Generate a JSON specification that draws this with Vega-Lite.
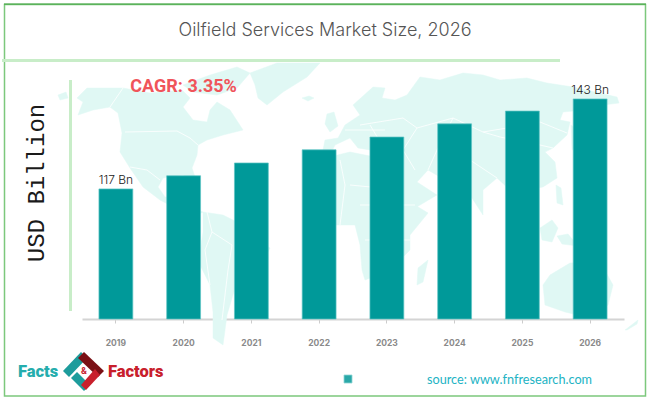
{
  "$schema": "https://vega.github.io/schema/vega-lite/v6.json",
  "width": 650,
  "height": 400,
  "padding": 0,
  "autosize": "none",
  "background": "#ffffff",
  "config": {"view": {"stroke": null}},
  "datasets": {
    "market": [
      {"year": "2019", "value": 117, "label": "117 Bn"},
      {"year": "2020", "value": 120.8, "label": ""},
      {"year": "2021", "value": 124.5, "label": ""},
      {"year": "2022", "value": 128.3, "label": ""},
      {"year": "2023", "value": 132, "label": ""},
      {"year": "2024", "value": 135.8, "label": ""},
      {"year": "2025", "value": 139.5, "label": ""},
      {"year": "2026", "value": 143, "label": "143 Bn"}
    ],
    "one": [{"item": "note"}]
  },
  "layer": [
    {
      "projection": {"type": "identity", "scale": 1, "translate": [0, 0]},
      "layer": [
        {
          "data": {"values": [
            {"type": "Feature", "properties": {"name": "North America"}, "geometry": {"type": "Polygon", "coordinates": [[[77,98],[87,88],[123,88],[150,93],[182,90],[190,98],[183,107],[193,120],[207,122],[210,110],[217,102],[230,110],[243,130],[223,135],[207,140],[198,145],[197,155],[192,168],[197,183],[192,180],[183,175],[163,178],[158,187],[165,197],[175,197],[182,205],[203,212],[197,215],[183,212],[160,200],[143,187],[130,168],[120,152],[122,133],[118,113],[110,107],[93,110],[78,115],[83,102],[77,98]]]}},
            {"type": "Feature", "properties": {"name": "Chukotka"}, "geometry": {"type": "Polygon", "coordinates": [[[58,95],[66,92],[68,98],[60,100],[58,95]]]}},
            {"type": "Feature", "properties": {"name": "Arctic islands"}, "geometry": {"type": "Polygon", "coordinates": [[[183,85],[210,75],[237,67],[250,73],[237,88],[217,95],[193,92],[183,85]]]}},
            {"type": "Feature", "properties": {"name": "Greenland"}, "geometry": {"type": "Polygon", "coordinates": [[[250,73],[277,63],[320,63],[307,77],[283,92],[267,105],[258,98],[255,85],[250,73]]]}},
            {"type": "Feature", "properties": {"name": "Iceland"}, "geometry": {"type": "Polygon", "coordinates": [[[302,98],[309,96],[314,98],[308,101],[302,98]]]}},
            {"type": "Feature", "properties": {"name": "Britain"}, "geometry": {"type": "Polygon", "coordinates": [[[327,114],[334,112],[338,126],[330,132],[325,124],[327,114]]]}},
            {"type": "Feature", "properties": {"name": "South America"}, "geometry": {"type": "Polygon", "coordinates": [[[203,212],[223,215],[237,222],[250,235],[270,248],[263,262],[250,278],[235,288],[227,315],[223,345],[213,338],[213,312],[210,285],[200,265],[200,252],[203,232],[203,212]]]}},
            {"type": "Feature", "properties": {"name": "Africa"}, "geometry": {"type": "Polygon", "coordinates": [[[325,158],[350,152],[365,155],[390,160],[402,175],[415,205],[428,213],[410,235],[410,250],[395,265],[378,275],[365,280],[362,270],[360,245],[355,225],[325,225],[312,200],[318,175],[325,158]]]}},
            {"type": "Feature", "properties": {"name": "Madagascar"}, "geometry": {"type": "Polygon", "coordinates": [[[428,260],[423,282],[417,285],[418,268],[428,260]]]}},
            {"type": "Feature", "properties": {"name": "Eurasia"}, "geometry": {"type": "Polygon", "coordinates": [[[323,150],[325,140],[338,138],[345,125],[360,115],[353,105],[373,87],[385,88],[382,98],[395,100],[407,95],[420,77],[440,80],[463,73],[483,75],[500,80],[527,78],[547,83],[573,87],[617,97],[619,103],[603,105],[583,110],[563,112],[560,120],[570,122],[567,135],[553,148],[545,152],[555,162],[557,178],[543,187],[537,188],[530,195],[520,210],[510,190],[497,178],[483,190],[483,215],[470,195],[465,178],[445,180],[428,170],[417,182],[437,195],[415,208],[403,182],[393,160],[380,150],[370,150],[358,148],[350,138],[335,145],[330,155],[320,155],[323,150]]]}},
            {"type": "Feature", "properties": {"name": "Japan"}, "geometry": {"type": "Polygon", "coordinates": [[[571,125],[578,130],[580,145],[572,150],[571,125]]]}},
            {"type": "Feature", "properties": {"name": "Philippines"}, "geometry": {"type": "Polygon", "coordinates": [[[556,185],[561,188],[563,205],[557,203],[556,185]]]}},
            {"type": "Feature", "properties": {"name": "Borneo"}, "geometry": {"type": "Polygon", "coordinates": [[[540,228],[552,220],[558,228],[552,242],[542,240],[540,228]]]}},
            {"type": "Feature", "properties": {"name": "New Guinea"}, "geometry": {"type": "Polygon", "coordinates": [[[557,236],[568,234],[578,246],[562,244],[557,236]]]}},
            {"type": "Feature", "properties": {"name": "Australia"}, "geometry": {"type": "Polygon", "coordinates": [[[543,285],[550,275],[570,263],[600,262],[613,285],[608,305],[590,318],[565,312],[545,305],[543,285]]]}},
            {"type": "Feature", "properties": {"name": "New Zealand"}, "geometry": {"type": "Polygon", "coordinates": [[[625,330],[638,320],[637,324],[627,330],[625,330]]]}}
          ]},
          "mark": {"type": "geoshape", "fill": "#e0f8f4", "stroke": "#e0f8f4", "strokeWidth": 0.5}
        },
        {
          "data": {"values": [
            {"type": "Feature", "properties": {"name": "borders"}, "geometry": {"type": "MultiLineString", "coordinates": [
              [[123,88],[110,107]],
              [[125,132],[177,131],[190,138],[198,145]],
              [[130,167],[147,170],[160,180]],
              [[207,212],[212,232],[205,250],[210,285]],
              [[212,232],[232,245],[228,270],[222,320]],
              [[360,125],[403,118],[417,128],[453,118],[483,132],[513,127],[540,122],[567,133]],
              [[483,132],[500,137],[540,145],[553,148]],
              [[453,118],[437,150],[428,170]],
              [[470,160],[497,178]],
              [[417,128],[403,150],[415,170]],
              [[370,125],[385,150]],
              [[345,130],[385,130]],
              [[340,160],[345,185],[340,225]],
              [[350,185],[402,190]],
              [[360,205],[415,205]],
              [[365,240],[410,240]],
              [[520,160],[535,195]]
            ]}}
          ]},
          "mark": {"type": "geoshape", "filled": false, "stroke": "#ffffff", "strokeWidth": 0.8}
        },
        {
          "data": {"values": [
            {"type": "Feature", "properties": {"name": "logo teal top"}, "geometry": {"type": "Polygon", "coordinates": [[[81,352],[63,371],[69,377],[87,358],[81,352]]]}},
            {"type": "Feature", "properties": {"name": "logo teal bottom"}, "geometry": {"type": "Polygon", "coordinates": [[[71,378],[84,391],[90,385],[77,372],[71,378]]]}}
          ]},
          "mark": {"type": "geoshape", "fill": "#1d9c9c"}
        },
        {
          "data": {"values": [
            {"type": "Feature", "properties": {"name": "logo red top"}, "geometry": {"type": "Polygon", "coordinates": [[[84,352],[104,371],[98,377],[78,358],[84,352]]]}}
          ]},
          "mark": {"type": "geoshape", "fill": "#7a1015"}
        },
        {
          "data": {"values": [
            {"type": "Feature", "properties": {"name": "logo red bottom"}, "geometry": {"type": "Polygon", "coordinates": [[[100,375],[86,390],[81,385],[95,369],[100,375]]]}}
          ]},
          "mark": {"type": "geoshape", "fill": "#c8202c"}
        },
        {
          "data": {"name": "one"},
          "mark": {"type": "rect", "filled": false, "stroke": "#7cc87c", "strokeWidth": 1.5},
          "encoding": {
            "x": {"datum": 4.5, "type": "quantitative", "scale": {"domain": [0, 650], "range": [0, 650]}, "axis": null},
            "x2": {"datum": 645.5},
            "y": {"datum": 4.5, "type": "quantitative", "scale": {"domain": [0, 400], "range": [0, 400]}, "axis": null},
            "y2": {"datum": 396}
          }
        },
        {
          "data": {"name": "one"},
          "mark": {"type": "rule", "stroke": "#3a9e3a", "strokeWidth": 1},
          "encoding": {
            "x": {"datum": 4, "type": "quantitative"},
            "x2": {"datum": 646},
            "y": {"datum": 4, "type": "quantitative"}
          }
        },
        {
          "data": {"name": "one"},
          "mark": {"type": "rule", "stroke": "#c8edc8", "strokeWidth": 3},
          "encoding": {
            "x": {"datum": 2, "type": "quantitative"},
            "x2": {"datum": 560},
            "y": {"datum": 60.5, "type": "quantitative"}
          }
        },
        {
          "data": {"name": "one"},
          "mark": {"type": "rule", "stroke": "#c8edc8", "strokeWidth": 3},
          "encoding": {
            "x": {"datum": 70.5, "type": "quantitative"},
            "y": {"datum": 80, "type": "quantitative"},
            "y2": {"datum": 311}
          }
        },
        {
          "data": {"name": "one"},
          "mark": {"type": "text", "text": "Oilfield Services Market Size, 2026", "font": "Inter", "fontWeight": 300, "fontSize": 18, "color": "#555555", "align": "center", "baseline": "middle"},
          "encoding": {"x": {"datum": 325, "type": "quantitative"}, "y": {"datum": 31, "type": "quantitative"}}
        },
        {
          "data": {"name": "one"},
          "mark": {"type": "text", "text": "USD Billion", "font": "Liberation Mono", "fontSize": 24, "color": "#1a1a1a", "angle": 270, "align": "center", "baseline": "middle"},
          "encoding": {"x": {"datum": 37, "type": "quantitative"}, "y": {"datum": 183, "type": "quantitative"}}
        },
        {
          "data": {"name": "one"},
          "mark": {"type": "text", "text": "Facts", "font": "Roboto", "fontWeight": 900, "fontSize": 16.5, "color": "#25adad", "align": "left", "baseline": "middle"},
          "encoding": {"x": {"datum": 18, "type": "quantitative"}, "y": {"datum": 372, "type": "quantitative"}}
        },
        {
          "data": {"name": "one"},
          "mark": {"type": "text", "text": "Factors", "font": "Roboto", "fontWeight": 900, "fontSize": 16.5, "color": "#c8202c", "align": "left", "baseline": "middle"},
          "encoding": {"x": {"datum": 108, "type": "quantitative"}, "y": {"datum": 372, "type": "quantitative"}}
        },
        {
          "data": {"name": "one"},
          "mark": {"type": "text", "text": "&", "font": "Roboto", "fontWeight": "bold", "fontSize": 9, "color": "#c8202c", "align": "center", "baseline": "middle"},
          "encoding": {"x": {"datum": 84, "type": "quantitative"}, "y": {"datum": 371, "type": "quantitative"}}
        },
        {
          "data": {"name": "one"},
          "mark": {"type": "rect", "fill": "#2aa8a8", "stroke": "#8fd6d6", "strokeWidth": 0.8},
          "encoding": {
            "x": {"datum": 344, "type": "quantitative"},
            "x2": {"datum": 352},
            "y": {"datum": 375, "type": "quantitative"},
            "y2": {"datum": 383}
          }
        },
        {
          "data": {"name": "one"},
          "mark": {"type": "text", "text": "source: www.fnfresearch.com", "font": "Lato", "fontSize": 12.7, "color": "#22b3c4", "align": "left", "baseline": "middle"},
          "encoding": {"x": {"datum": 427, "type": "quantitative"}, "y": {"datum": 380, "type": "quantitative"}}
        }
      ]
    },
    {
      "data": {"name": "market"},
      "encoding": {
        "x": {
          "field": "year",
          "type": "ordinal",
          "title": null,
          "scale": {"range": [82, 624], "paddingInner": 0.5, "paddingOuter": 0.25},
          "axis": {
            "orient": "bottom",
            "offset": -81,
            "labelAngle": 0,
            "domainColor": "#d4d4d4",
            "domainWidth": 2,
            "tickColor": "#cccccc",
            "tickSize": 4,
            "labelPadding": 15,
            "labelFont": "Inter",
            "labelFontSize": 8.5,
            "labelFontWeight": "bold",
            "labelColor": "#8a8a8a",
            "grid": false
          }
        }
      },
      "layer": [
        {
          "mark": {"type": "bar", "fill": "#009999", "stroke": "#5fc4c4", "strokeWidth": 0.7},
          "encoding": {
            "y": {
              "field": "value",
              "type": "quantitative",
              "axis": null,
              "scale": {"domain": [79.4, 171.6], "range": [319, 0], "zero": false, "nice": false}
            },
            "y2": {"datum": 79.4}
          }
        },
        {
          "mark": {"type": "text", "font": "Inter", "fontWeight": 300, "fontSize": 12, "color": "#222222", "baseline": "bottom", "dy": -2},
          "encoding": {
            "y": {"field": "value", "type": "quantitative"},
            "text": {"field": "label"}
          }
        },
        {
          "data": {"name": "one"},
          "mark": {"type": "text", "text": "CAGR: 3.35%", "font": "Roboto", "fontWeight": "bold", "fontSize": 18, "color": "#f0545a", "align": "center", "baseline": "middle"},
          "encoding": {
            "x": {"datum": "2020", "type": "ordinal"},
            "y": {"datum": 146.5, "type": "quantitative"}
          }
        }
      ]
    }
  ],
  "resolve": {"scale": {"x": "independent", "y": "independent"}}
}
